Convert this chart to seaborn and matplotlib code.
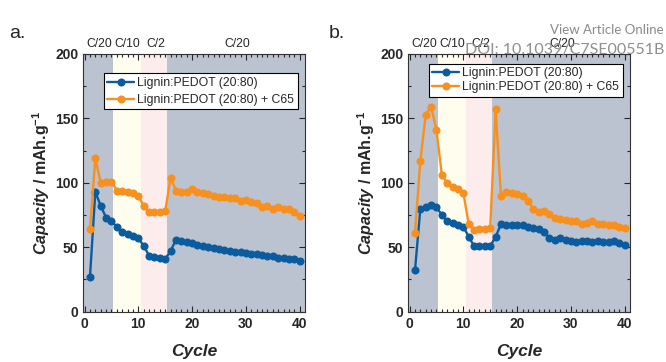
import numpy as np
import pandas as pd
import matplotlib
matplotlib.use("Agg")
import matplotlib.pyplot as plt
import seaborn as sns

cycles = list(range(1, 41))

# panel a
a_pedot = [27, 93, 82, 73, 70, 66, 62, 60, 58.5, 57, 51, 43.5, 42.5, 42, 41, 47,
           56, 55, 54, 53, 52, 51, 50, 49.5, 48.5, 48, 47, 46.5, 46, 45.5, 45, 44.5,
           44, 43.5, 43, 42, 41.5, 41, 40.5, 39.5]
a_c65 = [64, 119, 100, 101, 101, 94, 94, 93, 92, 90, 82, 77, 77, 77, 78, 104,
         94, 93, 93, 95, 93, 92, 91, 90, 89, 89, 88, 88, 86, 87, 85, 84,
         81, 82, 80, 81, 80, 80, 77, 74]

# panel b
b_pedot = [32, 80, 81, 83, 81, 75, 70, 68.5, 67, 66, 58, 51, 51, 51, 51, 58,
           68, 67.5, 67, 67, 67, 66, 65, 64, 62, 57, 56, 57, 55.5, 55, 54, 55,
           54.5, 54, 55, 54, 54, 54.5, 53.5, 52]
b_c65 = [61, 117, 153, 159, 141, 106, 100, 97, 95, 92, 68, 63, 64, 64, 65, 157,
         90, 93, 92, 91, 90, 86, 80, 77, 78, 76, 73, 72, 71, 70, 70, 68,
         69, 70, 68, 68, 67, 67, 66, 65]

series_names = ["Lignin:PEDOT (20:80)", "Lignin:PEDOT (20:80) + C65"]
rate_labels = ["C/20", "C/10", "C/2", "C/20"]
rate_pos = [2.8, 7.9, 13.3, 28.4]
rate_edges = [-0.25, 5.2, 10.4, 15.4, 41]
rate_colors = ["#bac3cf", "#fffeee", "#fdecec", "#bac3cf"]

sns.set_style("ticks")
plt.rcParams["font.family"] = ["Liberation Sans", "DejaVu Sans"]
plt.rcParams["mathtext.fontset"] = "custom"
plt.rcParams["mathtext.rm"] = "Liberation Sans:bold"
plt.rcParams["mathtext.bf"] = "Liberation Sans:bold"
plt.rcParams["mathtext.it"] = "Liberation Sans:bold:italic"

fig = plt.figure(figsize=(6.66, 3.62), dpi=100)
ax_a = fig.add_axes([0.125, 0.139, 0.333, 0.712])
ax_b = fig.add_axes([0.613, 0.139, 0.333, 0.712])

palette = {series_names[0]: "#0b5c9e", series_names[1]: "#f7901e"}

panels = [(ax_a, a_pedot, a_c65, "a.", 0.013, 0.925, 0.4),
          (ax_b, b_pedot, b_c65, "b.", 0.494, 0.962, 0.15)]
for ax, s1, s2, letter, lx, leg_y, leg_sp in panels:
    for i in range(4):
        ax.axvspan(rate_edges[i], rate_edges[i + 1], color=rate_colors[i], lw=0, zorder=0)
    df = pd.DataFrame({
        "Cycle": cycles * 2,
        "Capacity": s1 + s2,
        "Sample": [series_names[0]] * 40 + [series_names[1]] * 40,
    })
    sns.lineplot(data=df, x="Cycle", y="Capacity", hue="Sample", palette=palette,
                 marker="o", markersize=5.8, markeredgewidth=0, linewidth=1.7,
                 ax=ax, zorder=3)
    ax.set_xlim(-0.25, 41)
    ax.set_ylim(0, 200)
    ax.set_xticks([0, 10, 20, 30, 40])
    ax.set_xticks(range(0, 41), minor=True)
    ax.set_yticks([0, 50, 100, 150, 200])
    ax.set_yticks(range(0, 201, 25), minor=True)
    ax.tick_params(which="both", direction="in", top=True, right=True, width=0.8)
    ax.tick_params(which="major", length=4, labelsize=10)
    ax.tick_params(which="minor", length=2)
    for lab in ax.get_xticklabels() + ax.get_yticklabels():
        lab.set_fontweight("bold")
    for sp in ax.spines.values():
        sp.set_linewidth(0.8)
        sp.set_color("#333333")
    ax.set_xlabel("Cycle", fontsize=12.5, fontweight="bold", fontstyle="italic", labelpad=10)
    ax.set_ylabel(r"$\it{Capacity}$ / mAh.g$^{-1}$", fontsize=11.5,
                  fontweight="bold", labelpad=2)
    leg = ax.legend(loc="upper center", bbox_to_anchor=(0.53, leg_y), fontsize=8.8,
                    frameon=True, fancybox=False, edgecolor="black", framealpha=1,
                    handlelength=2.2, borderpad=0.3, labelspacing=leg_sp,
                    handletextpad=0.25, borderaxespad=0)
    leg.get_frame().set_linewidth(0.8)
    for t, p in zip(rate_labels, rate_pos):
        ax.text(p, 203, t, fontsize=8.7, ha="center", va="bottom")
    fig.text(lx, 0.895, letter, fontsize=14)

fig.text(0.997, 0.905, "View Article Online", fontsize=9.5, color="#8a8a8a",
         ha="right", family=["Lato", "DejaVu Sans"])
fig.text(0.997, 0.85, "DOI: 10.1039/C7SE00551B", fontsize=11.5, color="#8f8f8f",
         ha="right", family=["Lato", "DejaVu Sans"])

fig.savefig("out.png", dpi=100)
